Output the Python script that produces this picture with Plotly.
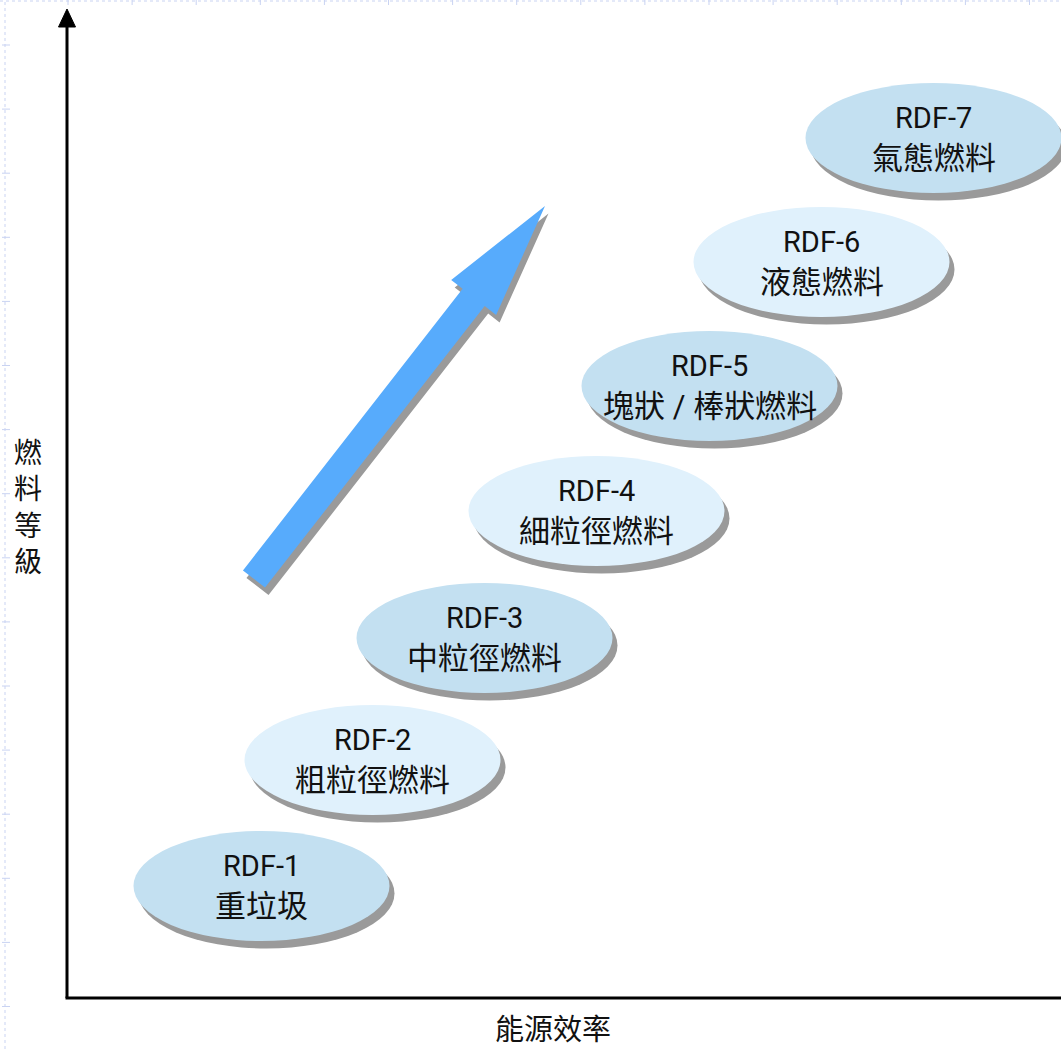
import numpy as np
import plotly.graph_objects as go

# ---------------- data ----------------
codes = ["RDF-1", "RDF-2", "RDF-3", "RDF-4", "RDF-5", "RDF-6", "RDF-7"]
names = ["重垃圾", "粗粒徑燃料", "中粒徑燃料", "細粒徑燃料", "塊狀 / 棒狀燃料", "液態燃料", "氣態燃料"]
efficiency = [19.45, 30.55, 41.75, 52.95, 64.25, 75.45, 86.65]   # x position (能源效率)
grade = [11.2, 23.8, 36.0, 48.7, 61.2, 73.6, 86.0]                # y position (燃料等級)
trend_start = (18.7, 41.9)
trend_end = (47.8, 79.2)

x_title = "能源效率"
y_title = "燃料等級"

# ---------------- styles ----------------
fill_dark = "#C3E0F1"
fill_light = "#E0F1FC"
shadow = "#9A9A9A"
arrow_blue = "#57ABFC"
semi_a, semi_b = 12.8, 5.5
sh_dx, sh_dy = 0.5, -0.75
cjk = "'Noto Sans CJK TC', 'Noto Sans CJK SC', sans-serif"
latin = "Roboto, 'Noto Sans CJK TC', sans-serif"

XR = [-6.7, 99.4]
YR = [-5.1, 99.8]

fig = go.Figure()
shapes = []
annotations = []

# faint slide grid remnants (decoration)
grid_col = "#C9D3F2"
shapes.append(dict(type="line", xref="x", yref="y", x0=-6.2, x1=-6.2, y0=YR[0], y1=YR[1],
                   line=dict(color=grid_col, width=1, dash="dot"), layer="below"))
shapes.append(dict(type="line", xref="x", yref="y", x0=XR[0], x1=XR[1], y0=99.7, y1=99.7,
                   line=dict(color=grid_col, width=1, dash="dot"), layer="below"))
gy = 99.8 - 4.5
while gy > YR[0]:
    shapes.append(dict(type="line", xref="x", yref="y", x0=-6.5, x1=-5.7, y0=gy, y1=gy,
                       line=dict(color=grid_col, width=1), layer="below"))
    gy -= 6.41
gx = 0.1
while gx < XR[1]:
    shapes.append(dict(type="line", xref="x", yref="y", x0=gx, x1=gx, y0=99.8, y1=99.3,
                       line=dict(color=grid_col, width=1), layer="below"))
    gx += 6.41

# axes (drawn as lines in data space)
fig.add_trace(go.Scatter(x=[0, 0], y=[97.2, 0], mode="lines",
                         line=dict(color="black", width=3), hoverinfo="skip", showlegend=False))
fig.add_trace(go.Scatter(x=[-0.15, XR[1]], y=[0, 0], mode="lines",
                         line=dict(color="black", width=3), hoverinfo="skip", showlegend=False))
fig.add_trace(go.Scatter(x=[-0.85, 0, 0.85, -0.85], y=[97.1, 98.9, 97.1, 97.1], mode="lines",
                         fill="toself", fillcolor="black", line=dict(color="black", width=1),
                         hoverinfo="skip", showlegend=False))

# ellipses
for i, (cx, cy) in enumerate(zip(efficiency, grade)):
    col = fill_dark if i % 2 == 0 else fill_light
    shapes.append(dict(type="circle", xref="x", yref="y",
                       x0=cx - semi_a + sh_dx, x1=cx + semi_a + sh_dx,
                       y0=cy - semi_b + sh_dy, y1=cy + semi_b + sh_dy,
                       fillcolor=shadow, line=dict(width=0), layer="above"))
    shapes.append(dict(type="circle", xref="x", yref="y",
                       x0=cx - semi_a, x1=cx + semi_a, y0=cy - semi_b, y1=cy + semi_b,
                       fillcolor=col, line=dict(width=0), layer="above"))
    annotations.append(dict(x=cx, y=cy + 2.0, xref="x", yref="y", text=codes[i],
                            showarrow=False, font=dict(family=latin, size=29, color="#111111")))
    annotations.append(dict(x=cx, y=cy - 2.0, xref="x", yref="y", text=names[i],
                            showarrow=False, font=dict(family=latin, size=31, color="#111111")))

# trend arrow
def arrow_poly(p0, p1, shaft_w=2.8, head_w=5.7, head_len=11.6):
    p0 = np.array(p0, float)
    p1 = np.array(p1, float)
    d = p1 - p0
    u = d / np.linalg.norm(d)
    n = np.array([-u[1], u[0]])
    base = p1 - u * head_len
    pts = [p0 + n * shaft_w / 2, base + n * shaft_w / 2, base + n * head_w / 2, p1,
           base - n * head_w / 2, base - n * shaft_w / 2, p0 - n * shaft_w / 2, p0 + n * shaft_w / 2]
    pts = np.array(pts)
    return pts[:, 0], pts[:, 1]

ax_, ay_ = arrow_poly(trend_start, trend_end)
fig.add_trace(go.Scatter(x=ax_ + 0.35, y=ay_ - 0.75, mode="lines", fill="toself", fillcolor=shadow,
                         line=dict(width=0, color=shadow), hoverinfo="skip", showlegend=False))
fig.add_trace(go.Scatter(x=ax_, y=ay_, mode="lines", fill="toself", fillcolor=arrow_blue,
                         line=dict(width=0, color=arrow_blue), hoverinfo="skip", showlegend=False))

# axis titles
annotations.append(dict(x=48.6, y=-2.85, xref="x", yref="y", text=x_title, showarrow=False,
                        font=dict(family=cjk, size=29, color="#111111")))
annotations.append(dict(x=-3.95, y=49.3, xref="x", yref="y", text="<br>".join(list(y_title)),
                        showarrow=False, font=dict(family=cjk, size=28, color="#111111")))

fig.update_layout(
    width=1061, height=1049, autosize=False,
    margin=dict(l=0, r=0, t=0, b=0),
    paper_bgcolor="white", plot_bgcolor="white",
    xaxis=dict(range=XR, visible=False, fixedrange=True),
    yaxis=dict(range=YR, visible=False, fixedrange=True),
    shapes=shapes, annotations=annotations, showlegend=False,
)

fig.write_html("out.html", config={"displayModeBar": False})
